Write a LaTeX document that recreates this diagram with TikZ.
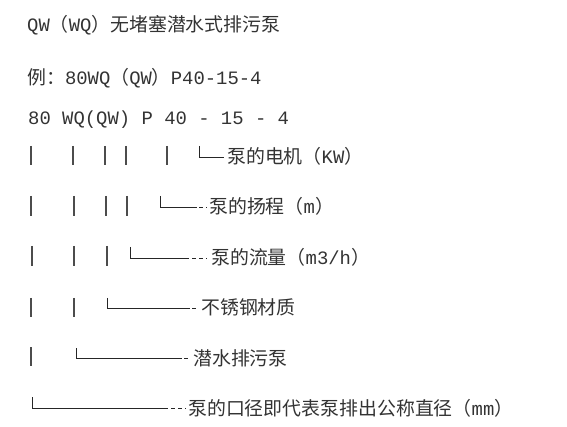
\documentclass[tikz,border=0pt]{standalone}
\usepackage{fontspec}
\setmainfont{Liberation Mono}
\newfontfamily\cjk{Noto Sans CJK SC}
\usepackage{tikz}
\usepackage{xcolor}

\begin{document}
\begin{tikzpicture}[x=1pt,y=-1pt]
\tikzstyle{every node}+=[inner sep=0pt,anchor=west,text height=16pt,text depth=2pt,text=black!80,font=\fontsize{18.9}{20}\selectfont]
\tikzstyle{bar}=[line width=1.3pt,black!70]
\tikzstyle{lead}=[line width=0.9pt,black!85]
\tikzstyle{tail}=[line width=0.9pt,black!85,dash pattern=on 4pt off 3pt]
\useasboundingbox (0,0) rectangle (567,427);
% heading lines
\node (title) at (27,25) {QW{\cjk （}WQ{\cjk ）无堵塞潜水式排污泵}};
\node (example) at (27,78) {{\cjk 例：}80WQ{\cjk （}QW{\cjk ）}P40-15-4};
\node (code) at (28,118) {80 WQ(QW) P 40 - 15 - 4};
% labels
\node (kw) at (227,157) {{\cjk 泵的电机（}KW{\cjk ）}};
\node (head) at (209,207) {{\cjk 泵的扬程（}m{\cjk ）}};
\node (flow) at (211,258) {{\cjk 泵的流量（}m3/h{\cjk ）}};
\node (steel) at (201,308) {\cjk 不锈钢材质};
\node (sub) at (193,358) {\cjk 潜水排污泵};
\node (dia) at (188,408) {{\cjk 泵的口径即代表泵排出公称直径（}mm{\cjk ）}};
% corner points
\coordinate (kwc) at (199,146);
\coordinate (headc) at (160,196);
\coordinate (flowc) at (130,247);
\coordinate (steelc) at (107,298);
\coordinate (subc) at (76,348);
\coordinate (diac) at (32,397);
% bars
\draw [bar] (31,146) -- (31,165);
\draw [bar] (73,146) -- (73,165);
\draw [bar] (105,146) -- (105,165);
\draw [bar] (126,146) -- (126,165);
\draw [bar] (167,146) -- (167,165);
\draw [bar] (31,196) -- (31,216);
\draw [bar] (74,196) -- (74,216);
\draw [bar] (106,196) -- (106,216);
\draw [bar] (127,196) -- (127,216);
\draw [bar] (32,246) -- (32,266);
\draw [bar] (74,246) -- (74,266);
\draw [bar] (107,246) -- (107,266);
\draw [bar] (31,298) -- (31,317);
\draw [bar] (74,298) -- (74,317);
\draw [bar] (31,347) -- (31,366);
% leaders
\draw [lead] (kwc) |- ([xshift=-3pt]kw.west);
\draw [lead] (headc) |- ([xshift=-12pt]head.west);
\draw [tail] ([xshift=-10pt]head.west) -- ([xshift=-2pt]head.west);
\draw [lead] (flowc) |- ([xshift=-22pt]flow.west);
\draw [tail] ([xshift=-19pt]flow.west) -- ([xshift=-4pt]flow.west);
\draw [lead] (steelc) |- ([xshift=-11pt]steel.west);
\draw [tail] ([xshift=-9pt]steel.west) -- ([xshift=-3pt]steel.west);
\draw [lead] (subc) |- ([xshift=-11pt]sub.west);
\draw [tail] ([xshift=-9pt]sub.west) -- ([xshift=-3pt]sub.west);
\draw [lead] (diac) |- ([xshift=-20pt]dia.west);
\draw [tail] ([xshift=-17pt]dia.west) -- ([xshift=-2pt]dia.west);
\end{tikzpicture}
\end{document}
